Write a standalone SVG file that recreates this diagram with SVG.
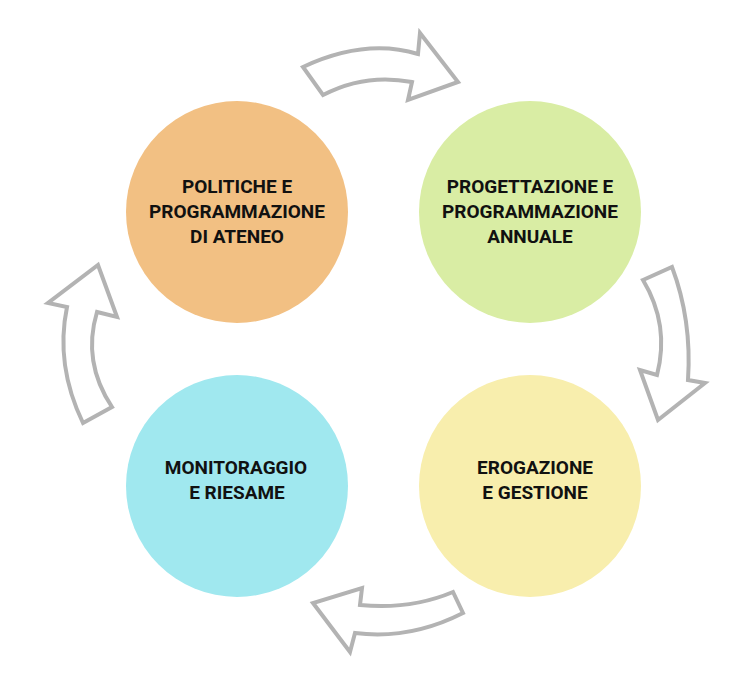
<svg xmlns="http://www.w3.org/2000/svg" width="754" height="692" viewBox="0 0 754 692">
<style>
.lbl{font-family:Roboto,"Liberation Sans",sans-serif;font-weight:700;font-size:19px;fill:#111;text-anchor:middle}
.arr{fill:#fff;stroke:#b3b3b3;stroke-width:4;stroke-linejoin:miter}
</style>
<rect width="754" height="692" fill="#fff"/>
<g id="connectors">
<path class="arr" d="M303,67 Q365,38 418,54 L420,33 L458,82 L408,100 L412,82 Q365,73 323,95 Z"/>
<path class="arr" d="M643,280 L672,267 Q692,320 688,380 L705,383 L658,420 L640,370 L657,375 Q670,325 643,280 Z"/>
<path class="arr" d="M453,592 Q410,610 360,605 L362,588 L313,603 L350,652 L355,633 Q410,640 463,613 Z"/>
<path class="arr" d="M83,423 L112,407 Q82,362 97,312 L117,317 L98,265 L48,303 L67,307 Q55,365 83,423 Z"/>
</g>
<g id="node-politiche">
<circle cx="237" cy="212" r="111" fill="#F2C083"/>
<text class="lbl" x="237" y="193">POLITICHE E</text>
<text class="lbl" x="237" y="218">PROGRAMMAZIONE</text>
<text class="lbl" x="237" y="243">DI ATENEO</text>
</g>
<g id="node-progettazione">
<circle cx="530" cy="212" r="111" fill="#D9EDA4"/>
<text class="lbl" x="530" y="193">PROGETTAZIONE E</text>
<text class="lbl" x="530" y="218">PROGRAMMAZIONE</text>
<text class="lbl" x="530" y="243">ANNUALE</text>
</g>
<g id="node-erogazione">
<circle cx="530" cy="486" r="111" fill="#F8EEAD"/>
<text class="lbl" x="535" y="474">EROGAZIONE</text>
<text class="lbl" x="535" y="499">E GESTIONE</text>
</g>
<g id="node-monitoraggio">
<circle cx="237" cy="486" r="111" fill="#A0E8EF"/>
<text class="lbl" x="236" y="474">MONITORAGGIO</text>
<text class="lbl" x="237" y="499">E RIESAME</text>
</g>
</svg>
